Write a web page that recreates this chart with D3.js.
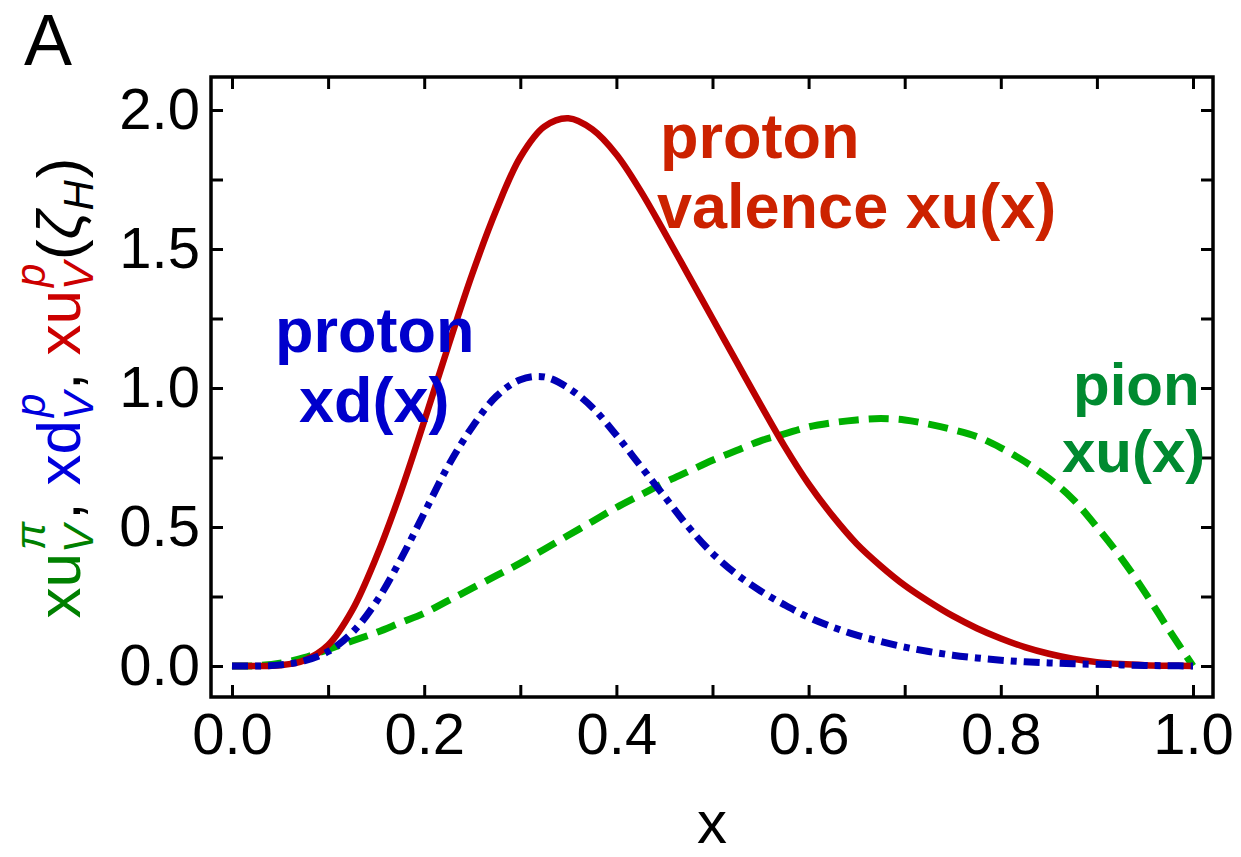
<!DOCTYPE html>
<html>
<head>
<meta charset="utf-8">
<script src="https://cdn.jsdelivr.net/npm/d3@7"></script>
<style>
  html, body { margin: 0; padding: 0; background: #fff; }
  svg { display: block; }
  text { font-family: "Liberation Sans", Arial, sans-serif; }
</style>
</head>
<body>
<svg id="chart" width="1241" height="857"></svg>
<script>
// ---- data ----
const xs = [0, 0.025, 0.05, 0.075, 0.1, 0.125, 0.15, 0.175, 0.2, 0.225, 0.25, 0.275, 0.3, 0.325, 0.35, 0.375, 0.4, 0.425, 0.45, 0.475, 0.5, 0.525, 0.55, 0.575, 0.6, 0.625, 0.65, 0.675, 0.7, 0.725, 0.75, 0.775, 0.8, 0.825, 0.85, 0.875, 0.9, 0.925, 0.95, 0.975, 1.0];
const protonU = [0, 0.000, 0.003, 0.02, 0.075, 0.20, 0.39, 0.62, 0.88, 1.15, 1.41, 1.64, 1.83, 1.94, 1.97, 1.93, 1.84, 1.71, 1.56, 1.405, 1.25, 1.095, 0.94, 0.79, 0.655, 0.54, 0.44, 0.36, 0.29, 0.232, 0.18, 0.136, 0.099, 0.068, 0.044, 0.026, 0.014, 0.007, 0.003, 0.001, 0];
const protonD = [0, 0.000, 0.004, 0.018, 0.052, 0.12, 0.23, 0.38, 0.55, 0.72, 0.86, 0.97, 1.03, 1.04, 1.00, 0.93, 0.83, 0.72, 0.61, 0.50, 0.405, 0.33, 0.27, 0.22, 0.175, 0.14, 0.111, 0.088, 0.068, 0.052, 0.039, 0.029, 0.021, 0.015, 0.011, 0.008, 0.006, 0.004, 0.002, 0.001, 0];
const pionU = [0, 0.001, 0.01, 0.03, 0.06, 0.09, 0.12, 0.155, 0.19, 0.235, 0.28, 0.325, 0.37, 0.42, 0.47, 0.52, 0.57, 0.615, 0.66, 0.70, 0.74, 0.775, 0.81, 0.835, 0.86, 0.875, 0.885, 0.89, 0.885, 0.87, 0.85, 0.825, 0.785, 0.735, 0.675, 0.60, 0.50, 0.39, 0.265, 0.13, 0];
const xTicks = [0, 0.1, 0.2, 0.3, 0.4, 0.5, 0.6, 0.7, 0.8, 0.9, 1.0];
const xLabels = [0, 0.2, 0.4, 0.6, 0.8, 1.0];
const yTicks = [0, 0.25, 0.5, 0.75, 1.0, 1.25, 1.5, 1.75, 2.0];
const yLabels = [0, 0.5, 1.0, 1.5, 2.0];

// ---- layout ----
const svg = d3.select("#chart");
svg.append("rect").attr("width", 1241).attr("height", 857).attr("fill", "#fff");

const frame = { left: 211, right: 1213, top: 77, bottom: 697 };
const x = d3.scaleLinear().domain([0, 1]).range([232, 1193]);
const y = d3.scaleLinear().domain([0, 2]).range([666, 110]);

const fmt = d3.format(".1f");
const lab = (arr) => (d) => arr.some(v => Math.abs(v - d) < 1e-9) ? fmt(d) : "";

function styleAxis(g, fs) {
  g.select(".domain").remove();
  g.selectAll(".tick line").attr("stroke", "#000").attr("stroke-width", 3);
  g.selectAll(".tick text").attr("fill", "#000").attr("font-size", fs)
    .attr("font-family", '"Liberation Sans", Arial, sans-serif');
}

svg.append("g").attr("transform", `translate(0,${frame.bottom})`)
  .call(d3.axisBottom(x).tickValues(xTicks).tickSize(-12).tickPadding(16).tickFormat(lab(xLabels)))
  .call(g => styleAxis(g, 58));
svg.append("g").attr("transform", `translate(0,${frame.top})`)
  .call(d3.axisTop(x).tickValues(xTicks).tickSize(-12).tickFormat(""))
  .call(g => styleAxis(g, 58));
svg.append("g").attr("transform", `translate(${frame.left},0)`)
  .call(d3.axisLeft(y).tickValues(yTicks).tickSize(-12).tickPadding(11).tickFormat(lab(yLabels)))
  .call(g => styleAxis(g, 58));
svg.append("g").attr("transform", `translate(${frame.right},0)`)
  .call(d3.axisRight(y).tickValues(yTicks).tickSize(-12).tickFormat(""))
  .call(g => styleAxis(g, 58));

svg.append("rect")
  .attr("x", frame.left).attr("y", frame.top)
  .attr("width", frame.right - frame.left).attr("height", frame.bottom - frame.top)
  .attr("fill", "none").attr("stroke", "#000").attr("stroke-width", 3.5);

// ---- curves ----
const line = d3.line().x(d => x(d[0])).y(d => y(Math.max(0, d[1]))).curve(d3.curveCatmullRom.alpha(0.5));
const series = [
  { vals: pionU, color: "#00b000", dash: "20,10", w: 7 },
  { vals: protonU, color: "#bb0000", dash: null, w: 6.5 },
  { vals: protonD, color: "#0000b4", dash: "16,7,6,7", w: 7 }
];
series.forEach(s => {
  svg.append("path")
    .datum(xs.map((xv, i) => [xv, s.vals[i]]))
    .attr("d", line)
    .attr("fill", "none")
    .attr("stroke", s.color)
    .attr("stroke-width", s.w)
    .attr("stroke-dasharray", s.dash)
    .attr("stroke-linecap", "butt");
});

// ---- curve labels ----
const labels = [
  { t: "proton", x: 660, y: 158, c: "#cc2200", fs: 63 },
  { t: "valence xu(x)", x: 657, y: 228, c: "#cc2200", fs: 63 },
  { t: "proton", x: 275, y: 352, c: "#0000cc", fs: 63 },
  { t: "xd(x)", x: 299, y: 422, c: "#0000cc", fs: 63 },
  { t: "pion", x: 1073, y: 405, c: "#008a30", fs: 60 },
  { t: "xu(x)", x: 1062, y: 472, c: "#008a30", fs: 60 }
];
labels.forEach(l => {
  svg.append("text").attr("x", l.x).attr("y", l.y)
    .attr("font-size", l.fs).attr("font-weight", "bold")
    .attr("fill", l.c).text(l.t);
});

// ---- axis titles ----
svg.append("text").attr("x", 712).attr("y", 843).attr("text-anchor", "middle")
  .attr("font-size", 60).attr("fill", "#000").text("x");
svg.append("text").attr("x", 24).attr("y", 65)
  .attr("font-size", 72).attr("fill", "#000").text("A");

// rotated y label built from pieces
const G = "#008000", B = "#0000dd", R = "#cc0000", K = "#000";
const pieces = [
  { t: "xu", c: G }, { sub: "V", sup: "π", c: G }, { t: ", ", c: K },
  { t: "xd", c: B }, { sub: "V", sup: "p", c: B }, { t: ", ", c: K },
  { t: "xu", c: R }, { sub: "V", sup: "p", c: R },
  { t: "(", c: K }, { t: "ζ", c: K, it: true }, { sub: "H", c: K }, { t: ")", c: K }
];
const outer = svg.append("g").attr("transform", "translate(80,388) rotate(-90)");
const inner = outer.append("g");
const MAIN = 62, SMALL = 42;
let cur = 0;
pieces.forEach(p => {
  if (p.t !== undefined) {
    const t = inner.append("text").attr("x", cur).attr("y", 0)
      .attr("font-size", MAIN).attr("fill", p.c)
      .attr("font-style", p.it ? "italic" : null)
      .attr("xml:space", "preserve").style("white-space", "pre").text(p.t);
    cur += t.node().getComputedTextLength();
  } else {
    let w = 0;
    if (p.sub) {
      const t = inner.append("text").attr("x", cur).attr("y", 13)
        .attr("font-size", SMALL).attr("font-style", "italic").attr("fill", p.c).text(p.sub);
      w = Math.max(w, t.node().getComputedTextLength());
    }
    if (p.sup) {
      const t = inner.append("text").attr("x", cur + 3).attr("y", -35)
        .attr("font-size", SMALL).attr("font-style", "italic").attr("fill", p.c).text(p.sup);
      w = Math.max(w, t.node().getComputedTextLength() + 3);
    }
    cur += w + 2;
  }
});
inner.attr("transform", `translate(${-cur / 2},0)`);
</script>
</body>
</html>
